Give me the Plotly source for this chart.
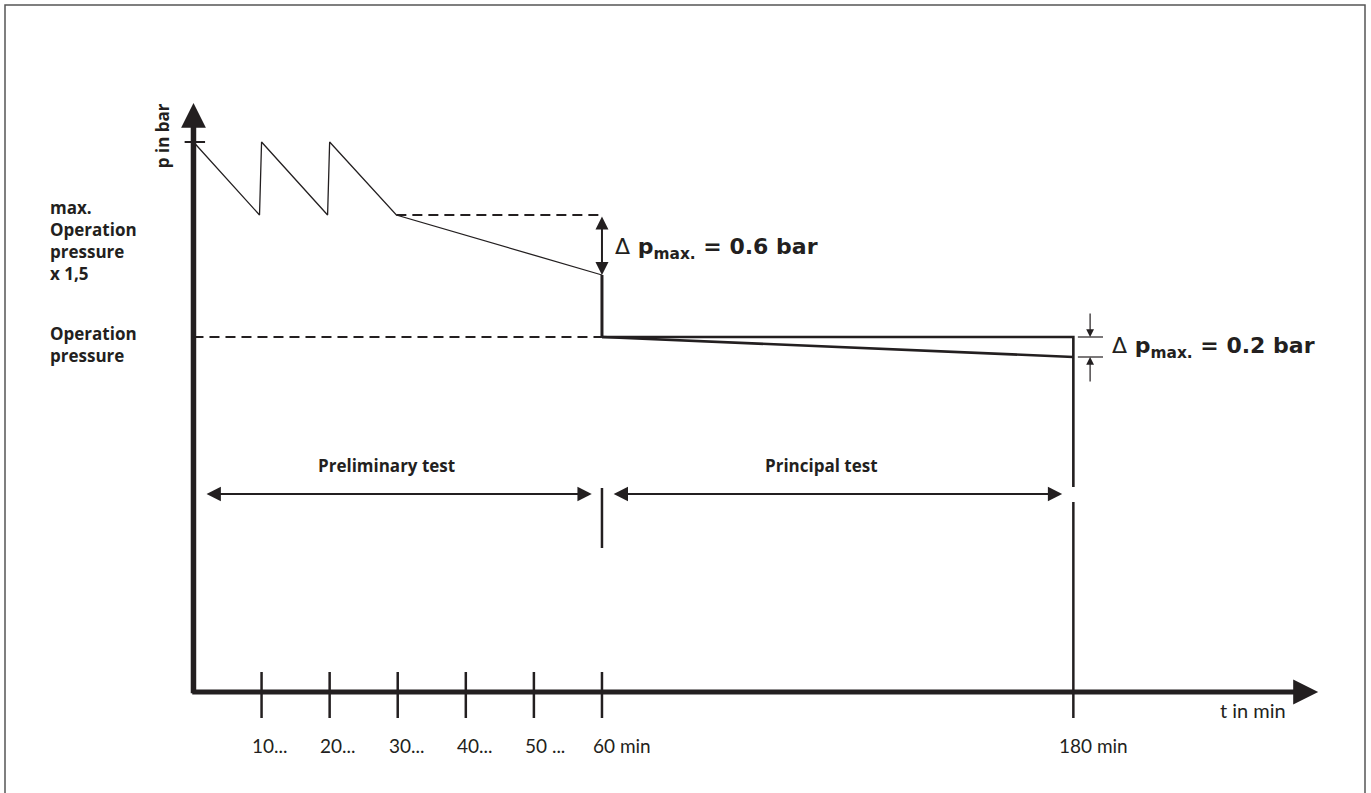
import plotly.graph_objects as go

INK = "#231f20"
BOLD = "Open Sans"
WIDE = "DejaVu Sans"
LIGHT = "Lato"

# time axis in minutes; 0-60 min drawn to scale, the principal test end is drawn compressed
tick_minutes = [10, 20, 30, 40, 50, 60, 180]
tick_labels = ["10...", "20...", "30...", "40...", "50 ...", "60 min", "180 min"]
COMPRESS = 0.577  # axis units per minute after 60 min


def tx(t):
    return t if t <= 60 else 60 + (t - 60) * COMPRESS


# pressure levels (bar above the time axis)
p_test_max = 5.50      # max. operation pressure x 1.5, pumped up again
p_test_min = 4.77      # level after re-pumping has stopped
p_after_pre = 4.17     # p_test_min - 0.6 bar
p_op = 3.55            # operation pressure
p_end = 3.35           # p_op - 0.2 bar

# preliminary test: two re-pumps, then 30 min hold, then drop to operation pressure
pre_t = [0, 9.7, 10, 19.7, 20, 29.8, 60]
pre_p = [p_test_max, p_test_min, p_test_max, p_test_min, p_test_max, p_test_min, p_after_pre]

# principal test: 60 min -> 180 min
main_t = [60, 180]
main_p = [p_op, p_end]

fig = go.Figure()


def line(x, y, width, dash=None):
    fig.add_trace(go.Scatter(x=x, y=y, mode="lines", hoverinfo="skip",
                             line=dict(color=INK, width=width, dash=dash)))


# pressure curve
line(pre_t, pre_p, 1.3)
line([60, 60], [p_after_pre, p_op], 3)
line([tx(t) for t in main_t], main_p, 2.6)
line([60, tx(180), tx(180)], [p_op, p_op, 2.05], 2.6)

# dashed reference levels
line([0, 60], [p_op, p_op], 2, "10px,6px")
line([29.8, 60], [p_test_min, p_test_min], 2, "10px,6px")

# construction lines at 60 and 180 min
line([60, 60], [2.04, 1.44], 2.5)
line([tx(180), tx(180)], [1.90, -0.26], 2.5)

# x ticks
tick_x, tick_y = [], []
for t in tick_minutes[:-1]:
    tick_x += [t, t, None]
    tick_y += [0.2, -0.26, None]
line(tick_x, tick_y, 2.5)

# y tick at test pressure
line([-1.3, 1.7], [p_test_max, p_test_max], 2)

# 0.2 bar extension lines
line([129.9, 133.6], [p_op, p_op], 1.2)
line([129.9, 133.6], [p_end, p_end], 1.2)

ann = []


def arrow(x0, y0, x1, y1, width, size, both=False, head=2):
    ann.append(dict(x=x1, y=y1, ax=x0, ay=y0, xref="x", yref="y", axref="x", ayref="y",
                    text="", showarrow=True, arrowhead=head, startarrowhead=head,
                    arrowsize=size, startarrowsize=size, arrowwidth=width,
                    arrowcolor=INK, arrowside="end+start" if both else "end",
                    standoff=0, startstandoff=0))


def label(x, y, text, size, family=BOLD, weight="bold", **kw):
    ann.append(dict(x=x, y=y, xref="x", yref="y", text=text, showarrow=False,
                    font=dict(family=family, size=size, color=INK, weight=weight), **kw))


# axes
arrow(0, -0.028, 0, 5.89, 5.5, 0.9)
arrow(-0.4, 0, 165.2, 0, 5, 1.0)

# dimension arrows
arrow(1.7, 1.98, 58.5, 1.98, 2.2, 1.3, both=True)
arrow(61.5, 1.98, 127.6, 1.98, 2.2, 1.3, both=True)
arrow(60, p_test_min, 60, p_after_pre, 2, 1.3, both=True)
arrow(131.7, 3.80, 131.7, p_op, 1.2, 1.3)
arrow(131.7, 3.09, 131.7, p_end, 1.2, 1.3)

# texts
delta = "<span style='font-weight:normal'>\u0394</span> p<sub>max.</sub> = {} bar"
label(-4.6, 5.56, "p in bar", 17, textangle=-90)
label(-21.3, 4.52, "max.<br>Operation<br>pressure<br>x 1,5", 17, xanchor="left", align="left")
label(-21.3, 3.48, "Operation<br>pressure", 17, xanchor="left", align="left")
label(28.3, 2.27, "Preliminary test", 17)
label(92.2, 2.27, "Principal test", 17)
label(61.6, 4.44, delta.format("0.6"), 22, family=WIDE, xanchor="left")
label(134.6, 3.45, delta.format("0.2"), 22, family=WIDE, xanchor="left")

for t, s in zip(tick_minutes, tick_labels):
    num = s.split(" ")[0].rstrip(".")
    label(tx(t), -0.53, s, 19, family=LIGHT, weight="normal",
          xanchor="left", xshift=-len(num) * 5.6)
label(160.7, -0.18, "t in min", 20, family=LIGHT, weight="normal", xanchor="right")

fig.update_layout(
    width=1371, height=793,
    margin=dict(l=0, r=0, t=0, b=0, pad=0),
    paper_bgcolor="white", plot_bgcolor="white",
    showlegend=False,
    xaxis=dict(range=[-28.42, 172.96], visible=False, fixedrange=True),
    yaxis=dict(range=[-1.01, 6.92], visible=False, fixedrange=True),
    annotations=ann,
    shapes=[dict(type="rect", xref="paper", yref="paper",
                 x0=5 / 1371, x1=1365 / 1371, y0=-0.05, y1=1 - 5 / 793,
                 line=dict(color="#555555", width=1.5))],
)

fig.write_html("out.html", config={"displayModeBar": False},
               post_script="document.body.style.margin='0';"
                           "document.body.style.overflow='hidden';")
